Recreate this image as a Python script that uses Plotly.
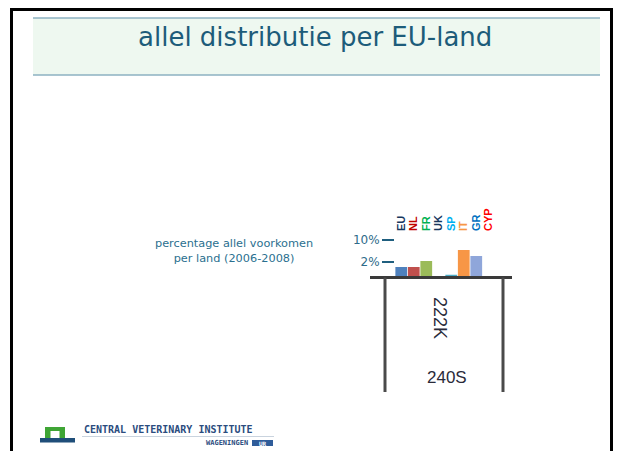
import plotly.graph_objects as go

OFF = 8  # page body margin: the figure is placed at (8, 8)
FW, FH = 605, 443  # fits the 621x459 window without scrollbars

# ---- data ----
countries = ["EU", "NL", "FR", "UK", "SP", "IT", "GR", "CYP"]
allele_pct = [1.43, 1.43, 2.19, None, 0.83, 4.8, 3.13, None]
bar_colors = ["#4F81BD", "#C0504D", "#9BBB59", "#4BACC6", "#4BACC6", "#F79646", "#8FA6DA", "#FF0000"]
label_colors = ["#17375E", "#C00000", "#00B050", "#17375E", "#00B0F0", "#F79646", "#0070C0", "#FF0000"]
y_tick_vals = [2, 10]
y_tick_text = ["2%", "10%"]

title_text = "allel distributie per EU-land"
side_text = "percentage allel voorkomen<br>per land (2006-2008)"
row_label_1 = "222K"
row_label_2 = "240S"


def fx(x):
    return (x - OFF) / FW


def fy(y):
    return 1 - (y - OFF) / FH


tick_labels = [f"<b><span style='color:{c}'>{t}</span></b>" for t, c in zip(countries, label_colors)]

fig = go.Figure()
fig.add_trace(go.Bar(
    x=countries, y=allele_pct,
    marker=dict(color=bar_colors, line=dict(width=0)),
    hoverinfo="x+y",
))

plot_left, plot_right = 395, 495
plot_top, plot_bottom = 232, 276.7

fig.update_layout(
    width=FW, height=FH,
    margin=dict(l=0, r=0, t=0, b=0),
    paper_bgcolor="white", plot_bgcolor="rgba(0,0,0,0)",
    showlegend=False,
    bargap=0.06,
    font=dict(family="DejaVu Sans"),
    xaxis=dict(
        domain=[fx(plot_left), fx(plot_right)],
        side="top", tickangle=-90,
        tickmode="array", tickvals=countries, ticktext=tick_labels,
        tickfont=dict(family="Liberation Sans", size=11),
        showgrid=False, showline=False, zeroline=False, ticks="",
    ),
    yaxis=dict(
        domain=[fy(plot_bottom), fy(plot_top)],
        type="log", range=[-0.145, 1.239],
        tickmode="array", tickvals=y_tick_vals, ticktext=y_tick_text,
        tickfont=dict(family="DejaVu Sans", size=12, color="#2E6B8A"),
        ticks="outside", ticklen=12, tickwidth=2, tickcolor="#1F5F7F",
        showgrid=False, showline=False, zeroline=False,
    ),
)


def line(x0, y0, x1, y1, color, width):
    return dict(type="line", xref="paper", yref="paper",
                x0=fx(x0), x1=fx(x1), y0=fy(y0), y1=fy(y1),
                line=dict(color=color, width=width), layer="above")


shapes = []
# slide border (top, left, right)
shapes.append(line(10, 9.5, 613, 9.5, "black", 3))
shapes.append(line(11.5, 8, 11.5, 451, "black", 3))
shapes.append(line(611.5, 8, 611.5, 451, "black", 3))
# title band
shapes.append(dict(type="rect", xref="paper", yref="paper",
                   x0=fx(33), x1=fx(600), y0=fy(75), y1=fy(18),
                   line=dict(width=0), fillcolor="#EEF8F0", layer="below"))
for yy in (18, 75):
    shapes.append(line(33, yy, 600, yy, "#8DB2C2", 1.5))
# table lines
shapes.append(line(370, 277.5, 512, 277.5, "#3A3A3A", 3))
for xx in (385, 503):
    shapes.append(line(xx, 277.5, xx, 392, "#4A4A4A", 3))
# logo
shapes.append(dict(type="rect", xref="paper", yref="paper",
                   x0=fx(45), x1=fx(65), y0=fy(439), y1=fy(427),
                   line=dict(width=0), fillcolor="#3FA535"))
shapes.append(dict(type="rect", xref="paper", yref="paper",
                   x0=fx(50.5), x1=fx(59.5), y0=fy(439), y1=fy(431),
                   line=dict(width=0), fillcolor="white"))
shapes.append(dict(type="rect", xref="paper", yref="paper",
                   x0=fx(40), x1=fx(75), y0=fy(442.5), y1=fy(438),
                   line=dict(width=0), fillcolor="#1F4E79"))
shapes.append(line(82, 436.5, 274, 436.5, "#C9D3DE", 1))
shapes.append(dict(type="rect", xref="paper", yref="paper",
                   x0=fx(252), x1=fx(273), y0=fy(446), y1=fy(440),
                   line=dict(width=0), fillcolor="#2F5C9A"))

annotations = [
    dict(text=title_text, x=fx(315), y=fy(37), xref="paper", yref="paper",
         showarrow=False, font=dict(family="DejaVu Sans", size=26, color="#1D5C7A"),
         xanchor="center", yanchor="middle"),
    dict(text=side_text, x=fx(234), y=fy(251), xref="paper", yref="paper",
         showarrow=False, font=dict(family="DejaVu Sans", size=11.3, color="#2A6F8F"),
         xanchor="center", yanchor="middle", align="center"),
    dict(text=row_label_1, x=fx(440), y=fy(318), xref="paper", yref="paper",
         showarrow=False, textangle=90, font=dict(family="Liberation Sans", size=18, color="#2A2A3A"),
         xanchor="center", yanchor="middle"),
    dict(text=row_label_2, x=fx(447), y=fy(377), xref="paper", yref="paper",
         showarrow=False, font=dict(family="Liberation Sans", size=17, color="#2A2A3A"),
         xanchor="center", yanchor="middle"),
    dict(text="<b>CENTRAL VETERINARY INSTITUTE</b>", x=fx(82), y=fy(429.5), xref="paper", yref="paper",
         showarrow=False, font=dict(family="DejaVu Sans Mono", size=10, color="#2B4C7E"),
         xanchor="left", yanchor="middle"),
    dict(text="<b>WAGENINGEN</b>", x=fx(250), y=fy(443), xref="paper", yref="paper",
         showarrow=False, font=dict(family="DejaVu Sans Mono", size=7, color="#2B4C7E"),
         xanchor="right", yanchor="middle"),
    dict(text="<b>UR</b>", x=fx(262.5), y=fy(443), xref="paper", yref="paper",
         showarrow=False, font=dict(family="DejaVu Sans Mono", size=6, color="white"),
         xanchor="center", yanchor="middle"),
]

fig.update_layout(shapes=shapes, annotations=annotations)
fig.write_html("out.html")
